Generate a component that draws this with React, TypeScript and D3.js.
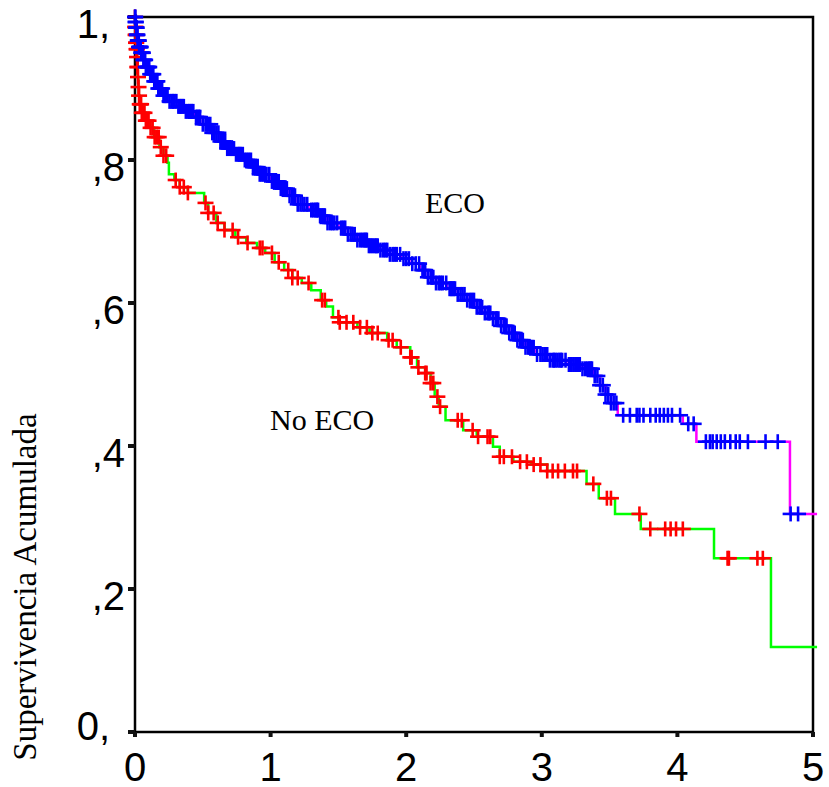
import React from "react";
import * as d3 from "d3";

// ECO group: event times and survival after each event
const ecoTimes = [0.003, 0.008, 0.014, 0.02, 0.03, 0.045, 0.06, 0.08, 0.11, 0.14, 0.17, 0.21, 0.25, 0.31, 0.37, 0.44, 0.5, 0.56, 0.62, 0.68, 0.74, 0.8, 0.86, 0.92, 1.0, 1.07, 1.14, 1.2, 1.28, 1.36, 1.42, 1.5, 1.57, 1.64, 1.72, 1.8, 1.88, 1.96, 2.04, 2.1, 2.16, 2.22, 2.3, 2.38, 2.45, 2.52, 2.58, 2.64, 2.7, 2.76, 2.82, 2.88, 2.96, 3.06, 3.18, 3.3, 3.38, 3.43, 3.47, 3.51, 3.56, 4.04, 4.14, 4.83];
const ecoSurv = [0.993, 0.985, 0.975, 0.967, 0.958, 0.95, 0.94, 0.93, 0.92, 0.91, 0.9, 0.89, 0.882, 0.875, 0.868, 0.86, 0.85, 0.838, 0.826, 0.816, 0.808, 0.8, 0.79, 0.78, 0.77, 0.76, 0.75, 0.738, 0.73, 0.722, 0.712, 0.705, 0.696, 0.688, 0.68, 0.674, 0.668, 0.662, 0.655, 0.646, 0.636, 0.628, 0.62, 0.612, 0.604, 0.594, 0.586, 0.578, 0.568, 0.558, 0.548, 0.538, 0.528, 0.52, 0.514, 0.508, 0.498, 0.485, 0.472, 0.46, 0.443, 0.431, 0.406, 0.305];
const ecoCensor = [0.0, 0.002, 0.004, 0.006, 0.008, 0.01, 0.012, 0.014, 0.016, 0.018, 0.02, 0.023, 0.025, 0.028, 0.03, 0.033, 0.036, 0.039, 0.042, 0.046, 0.05, 0.054, 0.058, 0.062, 0.066, 0.07, 0.075, 0.08, 0.085, 0.09, 0.095, 0.1, 0.105, 0.112, 0.12, 0.128, 0.135, 0.142, 0.15, 0.158, 0.165, 0.172, 0.18, 0.19, 0.2, 0.21, 0.22, 0.23, 0.24, 0.255, 0.27, 0.28, 0.29, 0.305, 0.32, 0.33, 0.34, 0.35, 0.36, 0.375, 0.39, 0.4, 0.41, 0.42, 0.43, 0.45, 0.46, 0.47, 0.48, 0.5, 0.52, 0.53, 0.54, 0.555, 0.57, 0.585, 0.6, 0.615, 0.63, 0.64, 0.65, 0.665, 0.68, 0.695, 0.71, 0.72, 0.73, 0.745, 0.76, 0.77, 0.78, 0.795, 0.81, 0.825, 0.84, 0.855, 0.87, 0.88, 0.89, 0.905, 0.92, 0.935, 0.95, 0.96, 0.97, 0.99, 1.01, 1.025, 1.04, 1.05, 1.06, 1.075, 1.09, 1.105, 1.12, 1.14, 1.16, 1.17, 1.18, 1.2, 1.22, 1.235, 1.25, 1.27, 1.3, 1.315, 1.33, 1.34, 1.35, 1.365, 1.38, 1.39, 1.4, 1.42, 1.44, 1.455, 1.47, 1.49, 1.52, 1.535, 1.55, 1.57, 1.59, 1.605, 1.62, 1.64, 1.66, 1.675, 1.69, 1.7, 1.71, 1.725, 1.74, 1.755, 1.77, 1.78, 1.79, 1.81, 1.83, 1.845, 1.86, 1.88, 1.9, 1.915, 1.93, 1.955, 1.98, 2.0, 2.02, 2.045, 2.07, 2.095, 2.12, 2.13, 2.14, 2.16, 2.18, 2.19, 2.2, 2.22, 2.24, 2.255, 2.27, 2.295, 2.32, 2.33, 2.34, 2.35, 2.36, 2.38, 2.4, 2.415, 2.43, 2.45, 2.47, 2.485, 2.5, 2.52, 2.54, 2.55, 2.56, 2.58, 2.6, 2.61, 2.62, 2.64, 2.66, 2.67, 2.68, 2.7, 2.72, 2.73, 2.74, 2.76, 2.78, 2.79, 2.8, 2.82, 2.84, 2.85, 2.86, 2.88, 2.9, 2.91, 2.92, 2.93, 2.94, 2.965, 2.99, 3.005, 3.02, 3.03, 3.04, 3.06, 3.08, 3.09, 3.1, 3.115, 3.13, 3.14, 3.15, 3.175, 3.2, 3.21, 3.22, 3.235, 3.25, 3.265, 3.28, 3.3, 3.32, 3.335, 3.35, 3.36, 3.37, 3.39, 3.41, 3.43, 3.45, 3.47, 3.49, 3.51, 3.53, 3.55, 3.6, 3.65, 3.7, 3.72, 3.75, 3.8, 3.84, 3.87, 3.9, 3.93, 3.96, 4.02, 4.08, 4.12, 4.21, 4.24, 4.26, 4.29, 4.32, 4.35, 4.39, 4.43, 4.46, 4.52, 4.65, 4.74, 4.835, 4.89];
const ecoEnd = 5.03;

// No ECO group
const noEcoTimes = [0.002, 0.005, 0.008, 0.011, 0.014, 0.017, 0.02, 0.024, 0.028, 0.035, 0.05, 0.08, 0.11, 0.14, 0.18, 0.21, 0.24, 0.25, 0.29, 0.33, 0.39, 0.51, 0.54, 0.6, 0.66, 0.74, 0.82, 0.9, 0.96, 1.03, 1.1, 1.16, 1.23, 1.3, 1.37, 1.41, 1.46, 1.51, 1.64, 1.73, 1.86, 1.93, 2.03, 2.08, 2.14, 2.18, 2.21, 2.24, 2.29, 2.42, 2.52, 2.64, 2.69, 2.79, 2.92, 3.04, 3.33, 3.42, 3.54, 3.73, 4.27, 4.69];
const noEcoSurv = [0.986, 0.975, 0.964, 0.955, 0.944, 0.93, 0.916, 0.902, 0.89, 0.878, 0.866, 0.855, 0.845, 0.832, 0.818, 0.806, 0.796, 0.78, 0.772, 0.762, 0.754, 0.74, 0.726, 0.712, 0.702, 0.692, 0.684, 0.677, 0.67, 0.657, 0.646, 0.635, 0.628, 0.618, 0.604, 0.595, 0.58, 0.573, 0.566, 0.558, 0.548, 0.538, 0.524, 0.51, 0.502, 0.488, 0.469, 0.455, 0.436, 0.422, 0.413, 0.399, 0.385, 0.378, 0.374, 0.365, 0.347, 0.327, 0.305, 0.284, 0.243, 0.119];
const noEcoCensor = [0.0, 0.002, 0.003, 0.005, 0.006, 0.008, 0.009, 0.012, 0.013, 0.015, 0.018, 0.019, 0.022, 0.026, 0.03, 0.035, 0.04, 0.045, 0.05, 0.06, 0.07, 0.08, 0.09, 0.1, 0.115, 0.13, 0.145, 0.16, 0.175, 0.19, 0.21, 0.23, 0.3, 0.33, 0.36, 0.39, 0.52, 0.54, 0.58, 0.61, 0.66, 0.72, 0.76, 0.83, 0.92, 0.94, 1.01, 1.06, 1.13, 1.16, 1.2, 1.28, 1.38, 1.4, 1.5, 1.51, 1.56, 1.61, 1.66, 1.71, 1.75, 1.79, 1.87, 1.9, 1.96, 2.03, 2.04, 2.09, 2.14, 2.15, 2.18, 2.2, 2.23, 2.25, 2.38, 2.41, 2.49, 2.53, 2.6, 2.62, 2.69, 2.72, 2.78, 2.84, 2.89, 2.94, 2.99, 3.04, 3.08, 3.12, 3.17, 3.23, 3.26, 3.38, 3.48, 3.51, 3.72, 3.8, 3.91, 3.95, 3.99, 4.04, 4.37, 4.38, 4.59, 4.63];
const noEcoEnd = 5.03;

const xTicks = [0, 1, 2, 3, 4, 5];
const xTickLabels = ["0", "1", "2", "3", "4", "5"];
const yTicks = [0, 0.2, 0.4, 0.6, 0.8, 1];
const yTickLabels = ["0,", ",2", ",4", ",6", ",8", "1,"];

const W = 829;
const H = 787;
const x = d3.scaleLinear().domain([0, 5]).range([135, 813]);
const y = d3.scaleLinear().domain([0, 1]).range([732, 17]);

function stepPoints(times: number[], surv: number[], end: number): [number, number][] {
  const pts: [number, number][] = [[0, 1]];
  times.forEach((t, i) => pts.push([t, surv[i]]));
  pts.push([end, surv[surv.length - 1]]);
  return pts;
}

function survAt(times: number[], surv: number[], t: number): number {
  const i = d3.bisectRight(times, t);
  return i === 0 ? 1 : surv[i - 1];
}

const line = d3
  .line<[number, number]>()
  .x((d) => x(d[0]))
  .y((d) => y(d[1]))
  .curve(d3.curveStepAfter);

function Crosses({ times, surv, censor, color }: { times: number[]; surv: number[]; censor: number[]; color: string }) {
  return (
    <g stroke={color} strokeWidth={2.6}>
      {censor.map((t, i) => {
        const cx = x(t);
        const cy = y(survAt(times, surv, t));
        return (
          <g key={i}>
            <line x1={cx - 8} x2={cx + 8} y1={cy} y2={cy} />
            <line x1={cx} x2={cx} y1={cy - 7.5} y2={cy + 7.5} />
          </g>
        );
      })}
    </g>
  );
}

export default function App() {
  const ecoPath = line(stepPoints(ecoTimes, ecoSurv, ecoEnd)) || "";
  const noEcoPath = line(stepPoints(noEcoTimes, noEcoSurv, noEcoEnd)) || "";
  return (
    <svg width={W} height={H} style={{ position: "absolute", left: 0, top: 0, background: "#fff" }}>
      <rect x={0} y={0} width={W} height={H} fill="#fff" />
      {/* frame */}
      <rect x={x(0)} y={y(1)} width={x(5) - x(0)} height={y(0) - y(1)} fill="none" stroke="#000" strokeWidth={2.5} />
      {/* ticks */}
      {yTicks.map((v, i) => (
        <line key={"yt" + i} x1={x(0) - 7} x2={x(0)} y1={y(v)} y2={y(v)} stroke="#111" strokeWidth={4} />
      ))}
      {xTicks.map((v, i) => (
        <line key={"xt" + i} x1={x(v)} x2={x(v)} y1={y(0)} y2={y(0) + 5} stroke="#111" strokeWidth={4} />
      ))}
      {/* tick labels */}
      <g fontFamily="'Liberation Sans', Arial, sans-serif" fontSize={40} fill="#000">
        {yTicks.map((v, i) => (
          <text
            key={"yl" + i}
            x={125 - (yTickLabels[i].endsWith(",") ? 15 : 0)}
            y={Math.min(y(v) + 21, 740)}
            textAnchor="end"
          >
            {yTickLabels[i]}
          </text>
        ))}
        {xTicks.map((v, i) => (
          <text key={"xl" + i} x={x(v)} y={781} textAnchor="middle">
            {xTickLabels[i]}
          </text>
        ))}
      </g>
      {/* curves */}
      <path d={noEcoPath} fill="none" stroke="#00ff00" strokeWidth={2.5} />
      <Crosses times={noEcoTimes} surv={noEcoSurv} censor={noEcoCensor} color="#ff0000" />
      <path d={ecoPath} fill="none" stroke="#ff00ff" strokeWidth={2.5} />
      <Crosses times={ecoTimes} surv={ecoSurv} censor={ecoCensor} color="#0000ff" />
      {/* labels */}
      <g fontFamily="'Liberation Serif', 'Times New Roman', serif" fill="#000">
        <text x={425} y={213} fontSize={30}>ECO</text>
        <text x={270} y={430} fontSize={30}>No ECO</text>
        <text x={36} y={587} fontSize={33} textAnchor="middle" transform="rotate(-90 36 587)">
          Supervivencia Acumulada
        </text>
      </g>
    </svg>
  );
}
